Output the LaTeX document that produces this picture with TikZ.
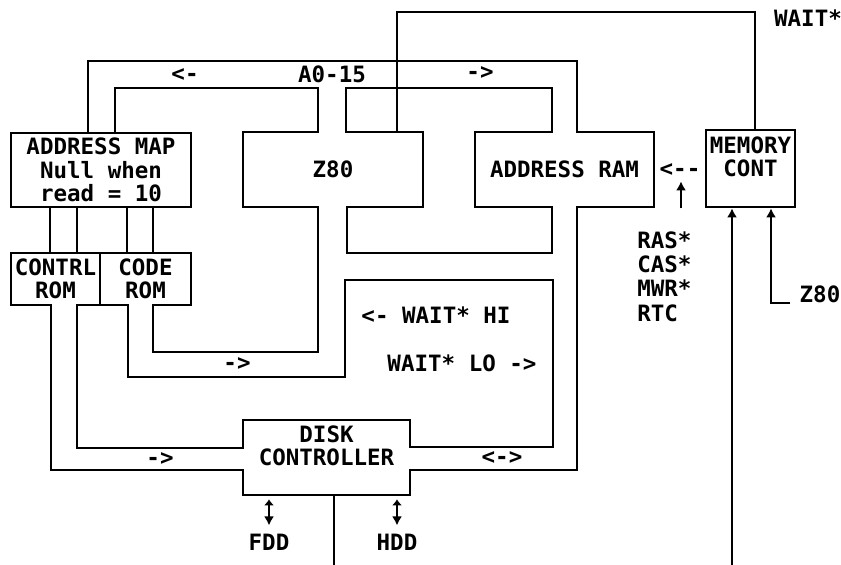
\documentclass[tikz,border=0pt]{standalone}
\usepackage{fontspec}
\setmonofont{DejaVu Sans Mono}
\usetikzlibrary{arrows.meta}
\begin{document}
\begin{tikzpicture}[x=1pt,y=-1pt,line width=2.7pt,
    every node/.style={font=\ttfamily\bfseries\fontsize{22.5}{23.5}\selectfont,inner sep=0pt},
    blk/.style={draw,align=center,minimum width=#1},
    gap/.style={white,line width=4pt},
    >={Latex[length=9pt,width=10pt]}]
  \useasboundingbox (0,0) rectangle (841,565);
  \node[blk=180,minimum height=74] (MAP) at (101,170) {ADDRESS MAP\\Null when\\read = 10};
  \node[blk=89,minimum height=52] (CTL) at (55.5,279) {CONTRL\\ROM};
  \node[blk=91,minimum height=52] (CODE) at (145.5,279) {CODE\\ROM};
  \node[blk=180,minimum height=75] (Z80) at (333,169.5) {Z80};
  \node[blk=179,minimum height=75] (RAM) at (564.5,169.5) {ADDRESS RAM};
  \node[blk=89,minimum height=77] (MEM) at (750.5,168.5) {MEMORY\\CONT\\\mbox{}};
  \node[blk=167,minimum height=75] (DISK) at (326.5,457.5) {DISK\\CONTROLLER\\\mbox{}};
  \coordinate (dbus) at (334,565);
  \coordinate (mbus) at (732,565);
  \coordinate (zin) at (790,303);
  % openings where the buses go in
  \foreach \n/\a/\b in {Z80.north/319.4/344.6,Z80.south/319.4/345.6,
      RAM.north/553.4/575.6,RAM.south/553.4/575.6,
      CTL.south/52.4/75.6,CODE.south/129.4/151.6}
    \draw[gap] (\n -| \a,0) -- (\n -| \b,0);
  \draw[gap] (DISK.west |- 0,449.4) -- (DISK.west |- 0,468.6);
  \draw[gap] (DISK.east |- 0,448.4) -- (DISK.east |- 0,468.6);
  % address bus
  \draw (MAP.north -| 88,0) |- (577,61) -- (RAM.north -| 577,0);
  \draw (MAP.north -| 115,0) |- (318,88) -- (Z80.north -| 318,0);
  \draw (Z80.north -| 346,0) |- (552,88) -- (RAM.north -| 552,0);
  \draw (Z80.north -| 397,0) |- (755,12) -- (MEM.north -| 755,0);
  \foreach \x/\r in {50/CTL,77/CTL,127/CODE,153/CODE}
    \draw (MAP.south -| \x,0) -- (\r.north -| \x,0);
  % data paths
  \draw (Z80.south -| 347,0) |- (552,253) -- (RAM.south -| 552,0);
  \draw (Z80.south -| 318,0) |- (153,352) -- (CODE.south -| 153,0);
  \draw (CODE.south -| 128,0) |- (345,377) |- (553,280) |- (DISK.east |- 0,447);
  \draw (RAM.south -| 577,0) |- (DISK.east |- 0,470);
  \draw (CTL.south -| 77,0) |- (DISK.west |- 0,448);
  \draw (CTL.south -| 51,0) |- (DISK.west |- 0,470);
  \draw (DISK.south -| dbus) -- (dbus);
  \draw[->] (mbus) -- (MEM.south -| mbus);
  \draw[->] (zin) -| (MEM.south -| 771,0);
  \draw[->] (RAM.south -| 681,0) -- ++(0,-27);
  % labels
  \node (wait) at (808,18) {WAIT*};
  \node (lft) at (185,75) {<-};
  \node (abus) at (332,74) {A0-15};
  \node (rgt) at (480,73) {->};
  \node (mref) at (680,170) {<--};
  \node[align=left,anchor=west,font=\ttfamily\bfseries\fontsize{22.5}{24.3}\selectfont] (sig) at (636,276.5) {RAS*\\CAS*\\MWR*\\RTC};
  \node (zsrc) at (820,294) {Z80};
  \node (hi) at (436,315) {<- WAIT* HI};
  \node (lo) at (462,363) {WAIT* LO ->};
  \node (cfwd) at (237,364) {->};
  \node (dfwd) at (160,459) {->};
  \node (bidi) at (502,458) {<->};
  \node (fdd) at (269,542) {FDD};
  \node (hdd) at (397,542) {HDD};
  \draw[{Latex[length=6pt,width=10pt]}-{Latex[length=9pt,width=10pt]},shorten <=3pt,shorten >=7pt] (DISK.south -| fdd.north) -- (fdd.north);
  \draw[{Latex[length=6pt,width=10pt]}-{Latex[length=9pt,width=10pt]},shorten <=3pt,shorten >=7pt] (DISK.south -| hdd.north) -- (hdd.north);
\end{tikzpicture}
\end{document}
